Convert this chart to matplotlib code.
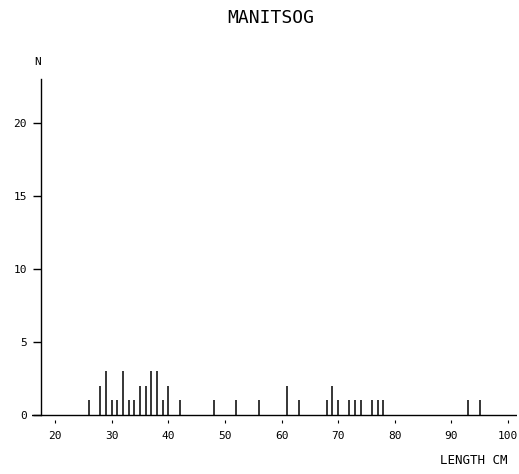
import numpy as np
import matplotlib
matplotlib.use("Agg")
import matplotlib.pyplot as plt

# fish lengths (cm) and counts
lengths = [26, 28, 29, 30, 31, 32, 33, 34, 35, 36, 37, 38, 39, 40, 42,
           48, 52, 56, 61, 63, 68, 69, 70, 72, 73, 74, 76, 77, 78, 93, 95]
counts = [1, 2, 3, 1, 1, 3, 1, 1, 2, 2, 3, 3, 1, 2, 1,
          1, 1, 1, 2, 1, 1, 2, 1, 1, 1, 1, 1, 1, 1, 1, 1]

x_ticks = [20, 30, 40, 50, 60, 70, 80, 90, 100]
y_ticks = [0, 5, 10, 15, 20]

title = "MANITSOG"
x_label = "LENGTH CM"
y_label = "N"

plt.rcParams['font.family'] = ['DejaVu Sans Mono']

fig = plt.figure(figsize=(5.19, 4.74), dpi=100)
ax = fig.add_axes([0.0624, 0.1137, 0.9328, 0.7285])

ax.set_xlim(16, 101.5)
ax.set_ylim(-0.35, 23.3)

# baseline + spikes
ax.plot([16, 101.5], [0, 0], color='black', lw=1.0)
ax.vlines(lengths, 0, counts, color='black', lw=1.1)

for s in ['top', 'right', 'bottom']:
    ax.spines[s].set_visible(False)
ax.spines['left'].set_position(('data', 17.5))
ax.spines['left'].set_bounds(0, 23)
ax.spines['left'].set_linewidth(1.0)

ax.set_xticks(x_ticks)
ax.set_xticklabels([str(t) for t in x_ticks])
ax.set_yticks(y_ticks)
ax.set_yticklabels([str(t) for t in y_ticks])
ax.tick_params(axis='x', direction='out', length=2.5, width=0.8, pad=5, labelsize=8)
ax.tick_params(axis='y', direction='out', length=6, width=1.0, pad=4, labelsize=8)

fig.text(271 / 519, 1 - 18 / 474, title, ha='center', va='center', fontsize=13)
fig.text(38 / 519, 1 - 62 / 474, y_label, ha='center', va='center', fontsize=8)
fig.text(440 / 519, 1 - 461 / 474, x_label, ha='left', va='center', fontsize=9)

fig.savefig("out.png", dpi=100)
